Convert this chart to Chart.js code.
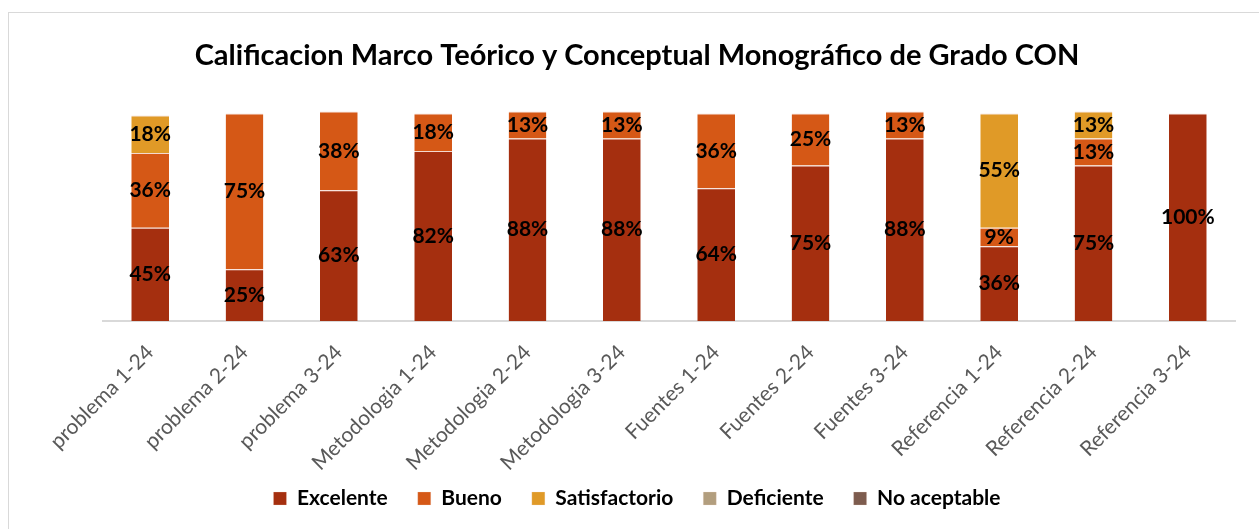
<!DOCTYPE html>
<html>
<head>
<meta charset="utf-8">
<script src="https://cdn.jsdelivr.net/npm/chart.js@4"></script>
<style>
    body { margin: 0; background: #fff; overflow: hidden; }
    .frame { position: absolute; left: 8px; top: 12px; width: 1300px; height: 600px; border: 1px solid #d9d9d9; }
    #wrap { position: absolute; left: 0; top: 0; width: 1259px; height: 529px; }
</style>
</head>
<body>
<div class="frame"></div>
<div id="wrap"><canvas id="notasChart"></canvas></div>
<script>
const categorias = ['problema 1-24', 'problema 2-24', 'problema 3-24', 'Metodologia 1-24', 'Metodologia 2-24', 'Metodologia 3-24',
    'Fuentes 1-24', 'Fuentes 2-24', 'Fuentes 3-24', 'Referencia 1-24', 'Referencia 2-24', 'Referencia 3-24'];

const excelente = [45, 25, 63, 82, 88, 88, 64, 75, 88, 36, 75, 100];
const bueno = [36, 75, 38, 18, 13, 13, 36, 25, 13, 9, 13, 0];
const satisfactorio = [18, 0, 0, 0, 0, 0, 0, 0, 0, 55, 13, 0];
const deficiente = [0, 0, 0, 0, 0, 0, 0, 0, 0, 0, 0, 0];
const noAceptable = [0, 0, 0, 0, 0, 0, 0, 0, 0, 0, 0, 0];

// labels centred in each stacked segment (no datalabels plugin available)
const segmentLabels = {
    id: 'segmentLabels',
    afterInit(chart) {
        // compact legend band, like the original
        const legend = chart.legend;
        const fit = legend.fit.bind(legend);
        legend.fit = function() { fit(); this.height = 48; };
    },
    afterLayout(chart) {
        // pull the legend up so it sits just under the rotated labels
        chart.legend.top -= 23;
        chart.legend.bottom = chart.height;
    },
    afterDatasetsDraw(chart) {
        const ctx = chart.ctx;
        ctx.save();
        ctx.font = 'bold 21px Lato';
        ctx.fillStyle = '#000';
        ctx.textAlign = 'center';
        ctx.textBaseline = 'middle';
        chart.data.datasets.forEach((ds, i) => {
            const meta = chart.getDatasetMeta(i);
            meta.data.forEach((bar, j) => {
                const v = ds.data[j];
                if (!v) return;
                ctx.fillText(v + '%', bar.x, (bar.y + bar.base) / 2);
            });
        });
        ctx.restore();
    }
};

function serie(label, data, color) {
    return {
        label: label,
        data: data,
        backgroundColor: color,
        borderColor: '#f4d9cf',
        borderWidth: { top: 1, bottom: 0, left: 0, right: 0 },
        borderSkipped: false
    };
}

const ctx = document.getElementById('notasChart').getContext('2d');
new Chart(ctx, {
    type: 'bar',
    data: {
        labels: categorias,
        datasets: [
            serie('Excelente', excelente, '#a52f0f'),
            serie('Bueno', bueno, '#d55816'),
            serie('Satisfactorio', satisfactorio, '#e09a27'),
            serie('Deficiente', deficiente, '#b29e7e'),
            serie('No aceptable', noAceptable, '#7d5c4e')
        ]
    },
    options: {
        responsive: true,
        maintainAspectRatio: false,
        animation: false,
        layout: { padding: { left: 39, right: 24, top: 10, bottom: 0 } },
        datasets: { bar: { barPercentage: 0.4, categoryPercentage: 1 } },
        plugins: {
            title: {
                display: true,
                text: 'Calificacion Marco Teórico y Conceptual Monográfico de Grado CON',
                color: '#000',
                font: { family: 'Lato', size: 29, weight: 'bold' },
                padding: { top: 28, bottom: 20 }
            },
            legend: {
                position: 'bottom',
                labels: {
                    boxWidth: 13,
                    boxHeight: 13,
                    color: '#000',
                    font: { family: 'Lato', size: 21, weight: 'bold' },
                    padding: 30
                }
            },
            tooltip: { enabled: false }
        },
        scales: {
            x: {
                stacked: true,
                grid: { display: false, drawTicks: false },
                border: { color: '#d9d9d9', width: 2 },
                afterFit(scale) { scale.height = 160; },
                ticks: {
                    minRotation: 45,
                    maxRotation: 45,
                    color: '#595959',
                    padding: 19,
                    font: { family: 'Lato', size: 21 }
                }
            },
            y: {
                stacked: true,
                min: 0,
                max: 110,
                grid: { display: false },
                border: { display: false },
                ticks: { display: false },
                afterFit(scale) { scale.width = 64; }
            }
        }
    },
    plugins: [segmentLabels]
});
</script>
</body>
</html>
